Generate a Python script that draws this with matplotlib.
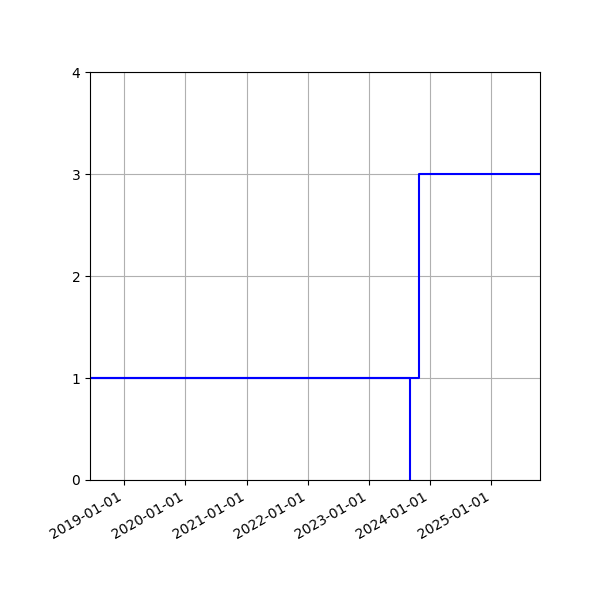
import numpy as np
import pandas as pd
import matplotlib
matplotlib.use("Agg")
import matplotlib.pyplot as plt
import matplotlib.dates as mdates

# Step data (drawn with where='pre')
dates = pd.to_datetime(["2023-09-03", "2018-01-01", "2023-10-28", "2026-06-01"])
values = [0, 1, 1, 3]

x_start = pd.Timestamp("2018-06-10")
x_end = pd.Timestamp("2025-10-18")

fig, ax = plt.subplots(figsize=(6, 6), dpi=100)
ax.step(dates, values, where="pre", color="b", linewidth=1.5)

ax.set_xlim(x_start, x_end)
ax.set_ylim(0, 4)
ax.set_yticks([0, 1, 2, 3, 4])
ax.xaxis.set_major_locator(mdates.YearLocator())
ax.xaxis.set_major_formatter(mdates.DateFormatter("%Y-%m-%d"))
ax.grid(True)

fig.autofmt_xdate()
plt.subplots_adjust(left=0.15, right=0.9, top=0.88, bottom=0.2)
fig.savefig("out.png")
